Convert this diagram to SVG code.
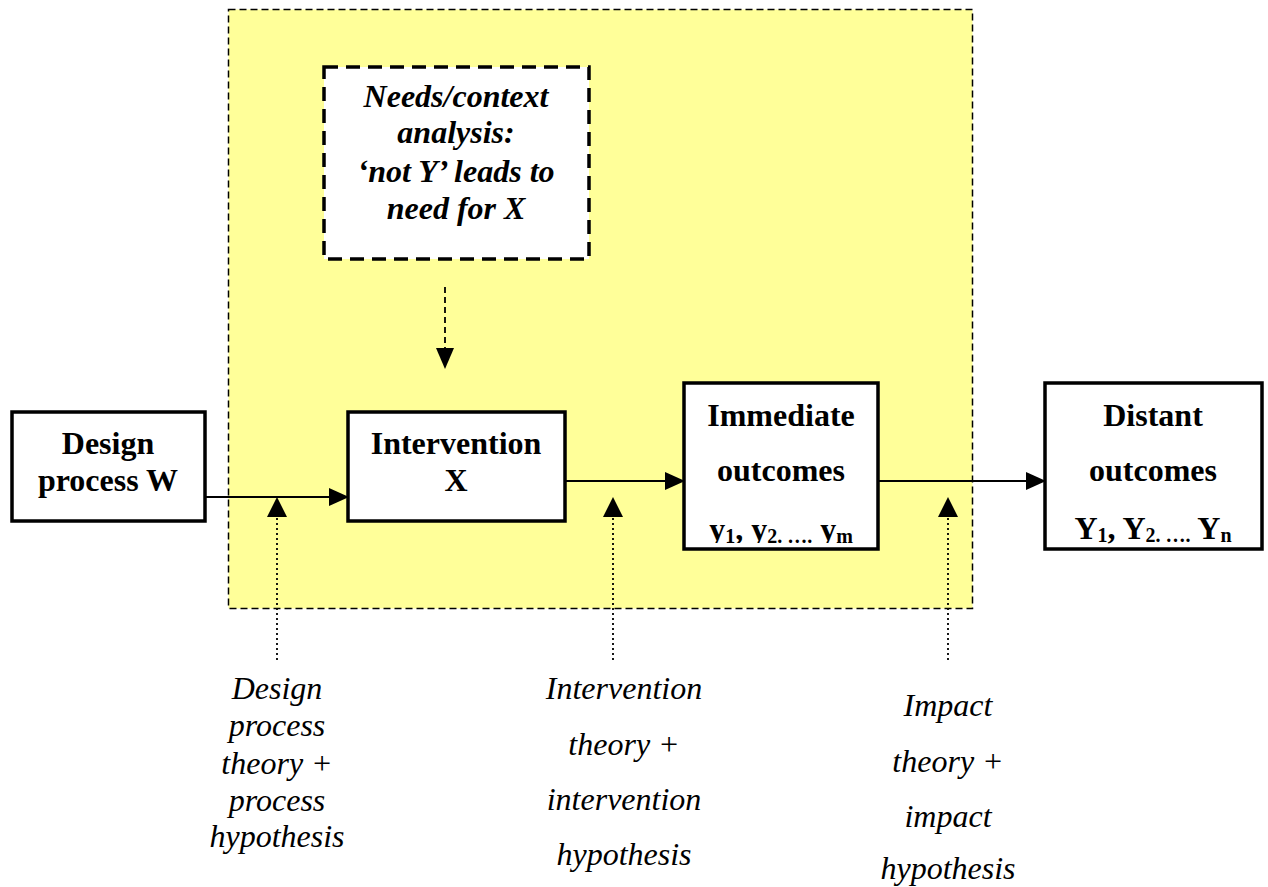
<svg xmlns="http://www.w3.org/2000/svg" width="1268" height="887" viewBox="0 0 1268 887">
  <style>
    .box { fill: #ffffff; stroke: #000000; stroke-width: 3.5; }
    .needs { fill: #ffffff; stroke: #000000; stroke-width: 3.5; stroke-dasharray: 14 8; }
    .zone { fill: #ffff99; stroke: #000000; stroke-width: 1.5; stroke-dasharray: 7 4; }
    .node { font-family: "Liberation Serif", "Times New Roman", serif; font-size: 32px; font-weight: bold; fill: #000; text-anchor: middle; }
    .bi { font-family: "Liberation Serif", "Times New Roman", serif; font-size: 32px; font-weight: bold; font-style: italic; fill: #000; text-anchor: middle; }
    .note { font-family: "Liberation Serif", "Times New Roman", serif; font-size: 32px; font-style: italic; fill: #000; text-anchor: middle; }
    .flow { stroke: #000; stroke-width: 1.8; fill: none; }
    .dash { stroke: #000; stroke-width: 1.8; fill: none; stroke-dasharray: 6 4; }
    .dot { stroke: #000; stroke-width: 1.8; fill: none; stroke-dasharray: 2 3; }
    .head { fill: #000; }
  </style>
  <defs>
    <clipPath id="clipImm"><rect x="686" y="385" width="190" height="158"/></clipPath>
    <clipPath id="clipDist"><rect x="1047" y="385" width="213" height="159"/></clipPath>
  </defs>

  <!-- white page -->
  <rect x="0" y="0" width="1268" height="887" fill="#ffffff"/>

  <!-- design zone -->
  <rect class="zone" x="228.5" y="9.5" width="744" height="599"/>

  <!-- connectors -->
  <g id="connectors">
    <line class="dash" x1="445" y1="287" x2="445" y2="352"/>
    <polygon class="head" points="436,348 454,348 445,369"/>

    <line class="flow" x1="205" y1="497" x2="332" y2="497"/>
    <polygon class="head" points="329,488 349,497 329,506"/>

    <line class="flow" x1="565" y1="481" x2="668" y2="481"/>
    <polygon class="head" points="665,472 685,481 665,490"/>

    <line class="flow" x1="878" y1="481" x2="1029" y2="481"/>
    <polygon class="head" points="1026,472 1046,481 1026,490"/>

    <polygon class="head" points="267,517 287,517 277,497"/>
    <line class="dot" x1="277" y1="518" x2="277" y2="662"/>

    <polygon class="head" points="603,517 623,517 613,497"/>
    <line class="dot" x1="613" y1="518" x2="613" y2="662"/>

    <polygon class="head" points="938,517 958,517 948,497"/>
    <line class="dot" x1="948" y1="518" x2="948" y2="662"/>
  </g>

  <!-- needs/context analysis -->
  <g id="needs">
    <rect class="needs" x="324" y="67" width="265" height="192"/>
    <text class="bi" x="456" y="107">Needs/context</text>
    <text class="bi" x="456" y="143">analysis:</text>
    <text class="bi" x="456" y="182">‘not Y’ leads to</text>
    <text class="bi" x="456" y="219">need for X</text>
  </g>

  <!-- design process -->
  <g id="design">
    <rect class="box" x="12" y="412" width="193" height="109"/>
    <text class="node" x="108" y="454">Design</text>
    <text class="node" x="108" y="491">process W</text>
  </g>

  <!-- intervention -->
  <g id="intervention">
    <rect class="box" x="348" y="412" width="217" height="109"/>
    <text class="node" x="456" y="454">Intervention</text>
    <text class="node" x="456" y="491">X</text>
  </g>

  <!-- immediate outcomes -->
  <g id="immediate">
    <rect class="box" x="684" y="383" width="194" height="166"/>
    <text class="node" x="781" y="426">Immediate</text>
    <text class="node" x="781" y="481">outcomes</text>
    <g clip-path="url(#clipImm)">
      <text class="node" x="781" y="540">y<tspan font-size="20" dy="3">1</tspan><tspan dy="-3">, y</tspan><tspan font-size="20" dy="3">2. ….</tspan><tspan dy="-3"> y</tspan><tspan font-size="20" dy="3">m</tspan></text>
    </g>
  </g>

  <!-- distant outcomes -->
  <g id="distant">
    <rect class="box" x="1045" y="383" width="217" height="166"/>
    <text class="node" x="1153" y="426">Distant</text>
    <text class="node" x="1153" y="481">outcomes</text>
    <g clip-path="url(#clipDist)">
      <text class="node" x="1153" y="539">Y<tspan font-size="20" dy="3">1</tspan><tspan dy="-3">, Y</tspan><tspan font-size="20" dy="3">2. ….</tspan><tspan dy="-3"> Y</tspan><tspan font-size="20" dy="3">n</tspan></text>
    </g>
  </g>

  <!-- theory labels -->
  <g id="label-process">
    <text class="note" x="277" y="699">Design</text>
    <text class="note" x="277" y="736">process</text>
    <text class="note" x="277" y="774">theory +</text>
    <text class="note" x="277" y="811">process</text>
    <text class="note" x="277" y="847">hypothesis</text>
  </g>
  <g id="label-intervention">
    <text class="note" x="624" y="699">Intervention</text>
    <text class="note" x="624" y="755">theory +</text>
    <text class="note" x="624" y="810">intervention</text>
    <text class="note" x="624" y="865">hypothesis</text>
  </g>
  <g id="label-impact">
    <text class="note" x="948" y="716">Impact</text>
    <text class="note" x="948" y="772">theory +</text>
    <text class="note" x="948" y="827">impact</text>
    <text class="note" x="948" y="879">hypothesis</text>
  </g>
</svg>
